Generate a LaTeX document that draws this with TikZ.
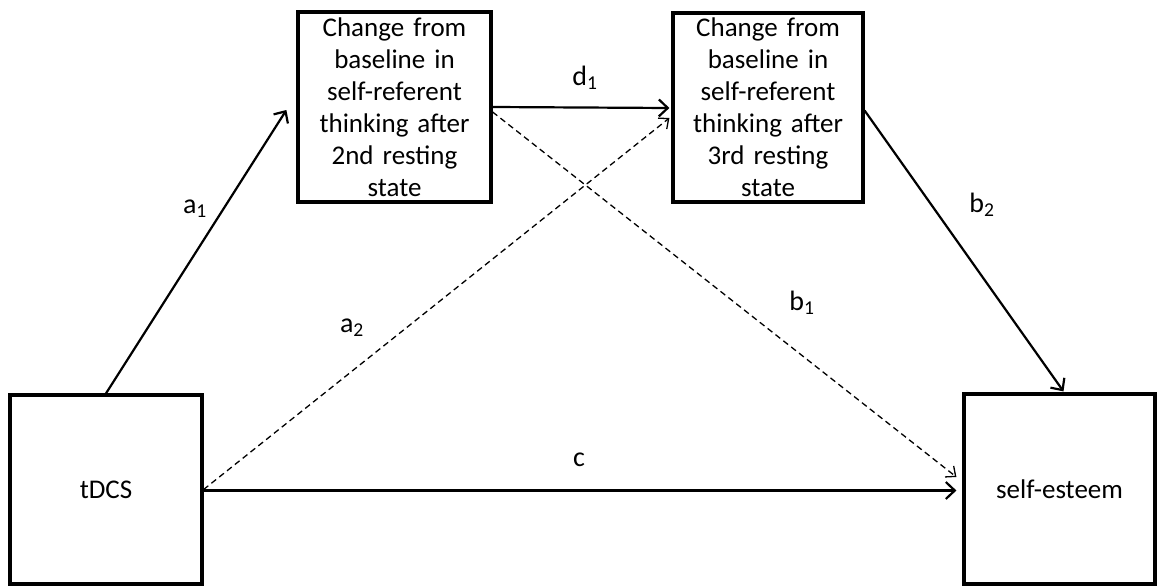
\documentclass[tikz,border=0pt]{standalone}
\usepackage{fontspec}
\setmainfont{Carlito}
\usetikzlibrary{arrows.meta,calc}
\begin{document}
\begin{tikzpicture}[x=1pt,y=-1pt,
  box/.style={draw,line width=3.2pt,inner sep=0pt,align=center,font=\fontsize{27}{32}\selectfont},
  conn/.style={line width=2.2pt,-{Straight Barb[length=9pt,width=17pt,line width=2.2pt]}},
  dconn/.style={line width=1.3pt,dash pattern=on 6pt off 4pt,-{Straight Barb[length=8pt,width=14pt,line width=1.3pt]}},
  lab/.style={font=\fontsize{28}{32}\selectfont,anchor=base,inner sep=0pt}]
\useasboundingbox (0,0) rectangle (1157,586);
\node[box,minimum width=193pt,minimum height=190pt,text width=190pt] (m1) at (394.5,107) {Change from\\baseline in\\self-referent\\thinking after\\2nd resting\\state};
\node[box,minimum width=190pt,minimum height=189pt,text width=187pt] (m2) at (768,107.5) {Change from\\baseline in\\self-referent\\thinking after\\3rd resting\\state};
\node[box,minimum width=192pt,minimum height=189pt] (x) at (106,489.5) {tDCS};
\node[box,minimum width=191pt,minimum height=190pt] (y) at (1059.5,489) {self-esteem};
\coordinate (a1e) at ($(m1.west)+(-10,3)$);
\coordinate (d1e) at ($(m2.west)+(-2,0.5)$);
\coordinate (b1e) at ($(y.west)+(-6,-12)$);
\coordinate (a2e) at ($(m2.west)+(-2,10.5)$);
\coordinate (ce) at ($(y.west)+(-6,1.5)$);
\coordinate (b2e) at ($(y.north)+(4,-1)$);
\draw[conn] (x.north) -- (a1e);
\draw[conn] (m1.east) -- (d1e);
\draw[dconn] ($(m1.east)+(0,5)$) -- (b1e);
\draw[dconn] (x.east) -- (a2e);
\draw[conn] ($(x.east)+(0,1)$) -- (ce);
\draw[conn] ($(m2.east)+(0,3)$) -- (b2e);
\node[lab] (la1) at (195,213) {a\textsubscript{1}};
\node[lab] (ld1) at (585,85) {d\textsubscript{1}};
\node[lab] (lb2) at (982,212) {b\textsubscript{2}};
\node[lab] (la2) at (352,332) {a\textsubscript{2}};
\node[lab] (lb1) at (802,310) {b\textsubscript{1}};
\node[lab] (lc) at (579,466) {c};
\end{tikzpicture}
\end{document}
